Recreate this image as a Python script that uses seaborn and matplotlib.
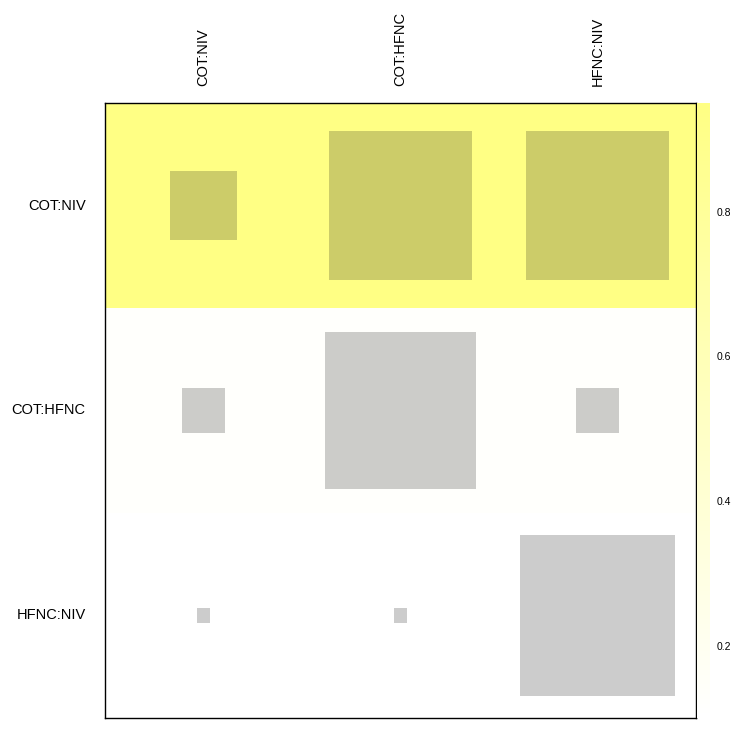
import numpy as np
import pandas as pd
import matplotlib
matplotlib.use("Agg")
import matplotlib.pyplot as plt
from matplotlib.colors import LinearSegmentedColormap
from matplotlib.patches import Rectangle
import seaborn as sns

sns.set_style("white")
plt.rcParams['font.family'] = ['Liberation Sans', 'DejaVu Sans']
plt.rcParams['text.color'] = 'black'
plt.rcParams['xtick.color'] = 'black'
plt.rcParams['ytick.color'] = 'black'

# design labels (rows and columns)
designs = ['COT:NIV', 'COT:HFNC', 'HFNC:NIV']

# background value of each row (heat colour)
row_heat = [0.95, 0.12, 0.10]

# relative size of the grey squares (fraction of the cell side)
size_row1 = [0.34, 0.73, 0.73]
size_row2 = [0.22, 0.77, 0.22]
size_row3 = [0.07, 0.07, 0.79]

heat = pd.DataFrame([[v] * len(designs) for v in row_heat],
                    index=designs, columns=designs)
sizes = np.array([size_row1, size_row2, size_row3])

cmap = LinearSegmentedColormap.from_list('wy', ['#FFFFFF', '#FFFF84'])

fig = plt.figure(figsize=(7.5, 7.29), dpi=100)
ax = fig.add_axes([0.14, 0.0151, 0.788, 0.8436])
cax = fig.add_axes([0.9293, 0.0151, 0.0173, 0.8436])

sns.heatmap(heat, ax=ax, cbar_ax=cax, cmap=cmap, vmin=0.1, vmax=0.95,
            cbar_kws={'ticks': [0.2, 0.4, 0.6, 0.8]})

# grey squares, centred in each cell
for i in range(sizes.shape[0]):
    for j in range(sizes.shape[1]):
        s = sizes[i, j]
        ax.add_patch(Rectangle((j + 0.5 - s / 2, i + 0.5 - s / 2), s, s,
                               facecolor='black', alpha=0.2, linewidth=0))

# frame around the heat map
for sp in ax.spines.values():
    sp.set_visible(True)
    sp.set_color('black')
    sp.set_linewidth(1)

ax.xaxis.tick_top()
ax.set_xticklabels(designs, rotation=90, fontsize=10.5)
ax.set_yticklabels(designs, rotation=0, fontsize=10.5)
ax.tick_params(axis='x', length=0, pad=12)
ax.tick_params(axis='y', length=0, pad=14)
ax.set_xlabel('')
ax.set_ylabel('')

cbar = ax.collections[0].colorbar
cbar.outline.set_visible(False)
cbar.ax.tick_params(length=0, labelsize=7.5, pad=5)
cbar.ax.set_yticklabels(['0.2', '0.4', '0.6', '0.8'])

fig.savefig('out.png', dpi=100)
